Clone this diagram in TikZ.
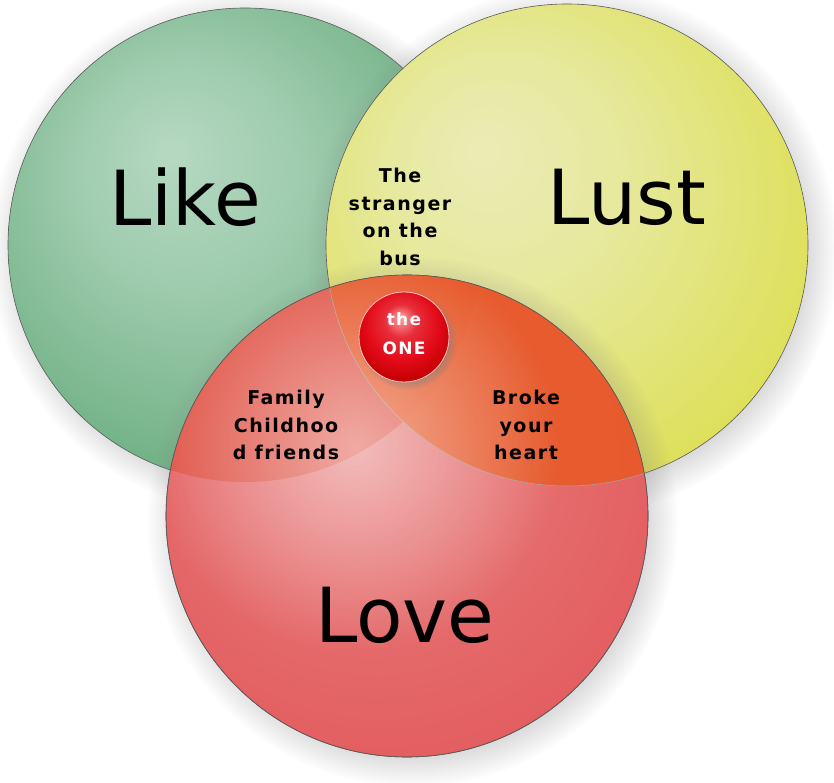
\documentclass[tikz,border=0pt]{standalone}
\usepackage{fontspec}
\setmainfont{DejaVu Sans}
\newfontfamily\tagfont[LetterSpace=8]{DejaVu Sans Bold}
\usepackage{xcolor}
\definecolor{likeedge}{HTML}{68AC7E}
\definecolor{likemid}{HTML}{B6D9C2}
\definecolor{lustedge}{HTML}{DDDF55}
\definecolor{lustmid}{HTML}{EAECB6}
\definecolor{loveedge}{HTML}{E35C5E}
\definecolor{lovemid}{HTML}{E8807F}
\definecolor{hotorange}{HTML}{E85A28}
\definecolor{hotred}{HTML}{E05242}
\definecolor{onered}{HTML}{E30A18}
\usepackage{tikz}
\usetikzlibrary{shadows,fadings}

\pgfdeclareradialshading{likeglow}{\pgfpoint{-8bp}{10bp}}{color(0bp)=(likemid); color(12bp)=(likemid!70!likeedge); color(32bp)=(likeedge); color(50bp)=(likeedge)}
\pgfdeclareradialshading{lustglow}{\pgfpoint{-9bp}{10bp}}{color(0bp)=(lustmid); color(12bp)=(lustmid!75!lustedge); color(32bp)=(lustedge); color(50bp)=(lustedge)}
\pgfdeclareradialshading{loveglow}{\pgfpoint{-6bp}{12bp}}{color(0bp)=(lovemid); color(14bp)=(lovemid!60!loveedge); color(32bp)=(loveedge); color(50bp)=(loveedge)}
\pgfdeclareradialshading{oneglow}{\pgfpoint{-2bp}{11bp}}{color(0bp)=(red!35!white); color(9bp)=(onered!85!white); color(20bp)=(onered); color(30bp)=(red!75!black); color(50bp)=(red!75!black)}
\tikzfading[name=softglow, inner color=transparent!35, outer color=transparent!100]

\begin{document}
\begin{tikzpicture}[
  x=1pt, y=1pt,
  venn/.style={circle, inner sep=0pt, draw=black!65, line width=0.6pt,
    circular drop shadow={shadow xshift=5pt, shadow yshift=-5pt, opacity=.35}},
  big/.style={font=\fontsize{76}{80}\selectfont, inner sep=0pt},
  tag/.style={font=\tagfont\fontsize{19}{27.5}\selectfont, align=center, inner sep=0pt},
  onetext/.style={font=\tagfont\fontsize{17}{29}\selectfont, text=white, align=center, inner sep=0pt}
  ]
  \useasboundingbox[fill=white] (0,0) rectangle (834,782);

  % the three sets
  \node[venn, minimum size=474pt, shading=likeglow] (like) at (245,537) {};
  \node[venn, minimum size=482pt, shading=lustglow] (lust) at (567,537) {};
  \node[venn, minimum size=482pt, shading=loveglow] (love) at (407,266) {};

  % overlaps inside love, then its highlight
  \begin{scope}
    \clip (love.center) circle (241);
    \fill[hotred, opacity=.8] (like.center) circle (237);
    \fill[hotorange, opacity=.9] (lust.center) circle (241);
    \draw[black!35, line width=0.5pt] (lust.center) circle (241);
    \fill[white, path fading=softglow, opacity=.75] (355,335) circle (205);
  \end{scope}
  \draw[black!65, line width=0.6pt] (love.center) circle (241);

  % the one
  \node[circle, inner sep=0pt, minimum size=90pt, shading=oneglow,
    draw=red!25!white, line width=0.8pt,
    circular drop shadow={shadow xshift=3pt, shadow yshift=-3pt, opacity=.45}] (one) at (404,445) {};

  % labels
  \node[big] (liketext) at (185,585) {Like};
  \node[big] (lusttext) at (627,585) {Lust};
  \node[big] (lovetext) at (405,167) {Love};
  \node[tag] (stranger) at (400,565) {The\\stranger\\on the\\bus};
  \node[tag] (family) at (286,357) {Family\\Childhoo\\d friends};
  \node[tag] (broke) at (526,357) {Broke\\your\\heart};
  \node[onetext] (onelabel) at (404,448) {the\\ONE};
\end{tikzpicture}
\end{document}
